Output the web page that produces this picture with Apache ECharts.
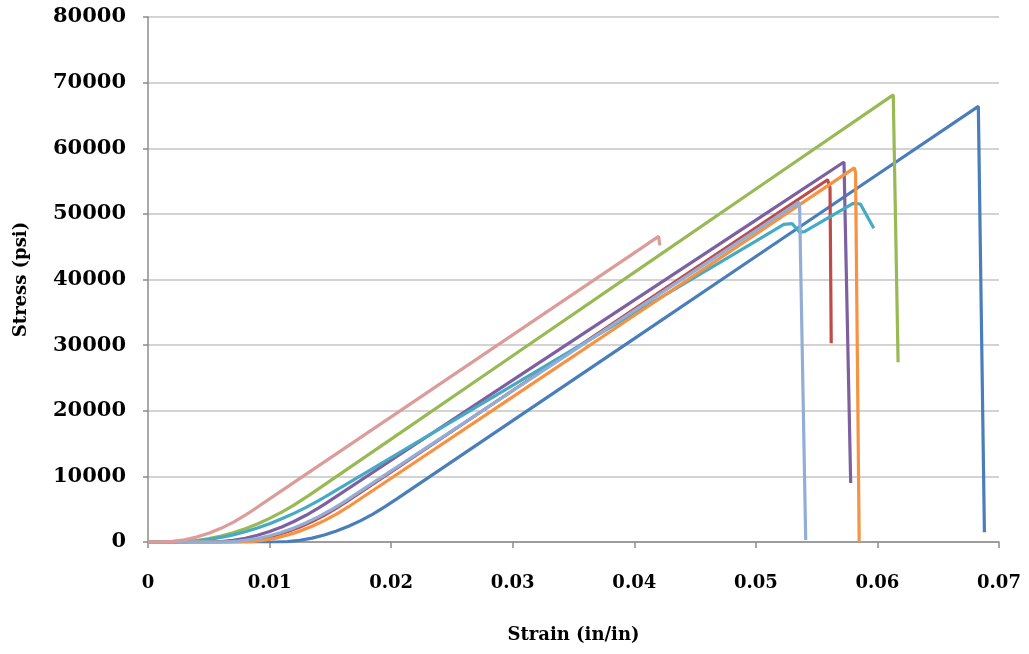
<!DOCTYPE html>
<html>
<head>
<meta charset="utf-8">
<script src="https://cdn.jsdelivr.net/npm/echarts@6/dist/echarts.min.js"></script>
<style>
html,body{margin:0;padding:0;background:#fff;}
#chart{width:1029px;height:654px;}
</style>
</head>
<body>
<div id="chart"></div>
<script>
// Strain (in/in), Stress (psi) pairs
const blueCurve = [[0,0],[0.0105,0],[0.0115,66],[0.0125,266],[0.0135,598],[0.0145,1064],[0.0155,1662],[0.0165,2394],[0.0175,3258],[0.0185,4255],[0.0195,5386],[0.0205,6600],[0.03,18500],[0.04,31000],[0.05,43500],[0.06,56000],[0.0683,66380],[0.0688,1500]];
const redCurve = [[0,0],[0.0065,0],[0.0075,64],[0.0085,254],[0.0095,572],[0.0105,1016],[0.0115,1588],[0.0125,2287],[0.0135,3112],[0.0145,4065],[0.0155,5145],[0.0163,6100],[0.02,10690],[0.03,23090],[0.04,35490],[0.05,47890],[0.0559,55200],[0.0561,54000],[0.0562,30300]];
const greenCurve = [[0,0],[0.002,0],[0.003,56],[0.004,225],[0.005,506],[0.006,899],[0.007,1405],[0.008,2023],[0.009,2753],[0.010,3596],[0.011,4551],[0.012,5619],[0.0133,7175],[0.02,15685],[0.03,28385],[0.04,41085],[0.05,53785],[0.0613,68140],[0.0617,27400]];
const purpleCurve = [[0,0],[0.005,0],[0.006,64],[0.007,255],[0.008,573],[0.009,1019],[0.010,1592],[0.011,2292],[0.012,3120],[0.013,4075],[0.014,5157],[0.0146,5843],[0.02,12456],[0.03,24656],[0.04,36856],[0.05,49056],[0.05725,57900],[0.0578,9000]];
const aquaCurve = [[0,0],[0.002,0],[0.003,44],[0.004,174],[0.005,392],[0.006,697],[0.007,1090],[0.008,1569],[0.009,2135],[0.010,2789],[0.011,3530],[0.012,4358],[0.013,5273],[0.014,6275],[0.0146,6919],[0.02,12859],[0.03,23859],[0.04,34859],[0.05,45859],[0.0523,48390],[0.053,48500],[0.0536,47200],[0.054,47300],[0.058,51600],[0.0586,51500],[0.0592,49500],[0.0597,47800]];
const orangeCurve = [[0,0],[0.0075,0],[0.0085,66],[0.0095,266],[0.0105,597],[0.0115,1062],[0.0125,1659],[0.0135,2389],[0.0145,3252],[0.0155,4248],[0.0165,5376],[0.0168,5750],[0.02,9709],[0.03,22109],[0.04,34509],[0.05,46909],[0.0581,57000],[0.0582,56300],[0.0585,0]];
const lightBlueCurve = [[0,0],[0.006,0],[0.007,60],[0.008,239],[0.009,537],[0.010,955],[0.011,1492],[0.012,2149],[0.013,2925],[0.014,3820],[0.015,4835],[0.016,5969],[0.02,10846],[0.03,23046],[0.04,35246],[0.05,47446],[0.05355,51780],[0.0536,51000],[0.0541,300]];
const pinkCurve = [[0,0],[0.001,0],[0.002,83],[0.003,333],[0.004,750],[0.005,1333],[0.006,2083],[0.007,3000],[0.008,4083],[0.0085,4688],[0.01,6563],[0.02,19063],[0.03,31563],[0.04,44063],[0.042,46560],[0.0421,45200]];

const seriesList = [
  {name:'S1', data: blueCurve, color:'#4A7EBB'},
  {name:'S2', data: redCurve, color:'#BE4B48'},
  {name:'S3', data: greenCurve, color:'#98B954'},
  {name:'S4', data: purpleCurve, color:'#7D60A0'},
  {name:'S5', data: aquaCurve, color:'#46AAC5'},
  {name:'S6', data: orangeCurve, color:'#F69240'},
  {name:'S7', data: lightBlueCurve, color:'#92AED7'},
  {name:'S8', data: pinkCurve, color:'#DB9C9A'}
];

const xTickMin = 0, xTickMax = 0.07, xTickStep = 0.01;
const yTickMin = 0, yTickMax = 80000, yTickStep = 10000;

const chart = echarts.init(document.getElementById('chart'), null, {renderer:'canvas'});
const serifBold = {fontFamily:'DejaVu Serif', fontWeight:'bold', color:'#000'};
chart.setOption({
  animation:false,
  backgroundColor:'#fff',
  grid:{left:148, right:30, top:17, bottom:112, containLabel:false},
  xAxis:{
    type:'value', min:xTickMin, max:xTickMax, interval:xTickStep,
    name:'Strain (in/in)', nameLocation:'middle', nameGap:84,
    nameTextStyle:Object.assign({fontSize:18}, serifBold),
    axisLine:{show:true, lineStyle:{color:'#8C8C8C', width:1.5}},
    axisTick:{show:true, length:6, lineStyle:{color:'#8C8C8C', width:1.5}},
    axisLabel:Object.assign({fontSize:18, margin:32, formatter:v => v === 0 ? '0' : v.toFixed(2)}, serifBold),
    splitLine:{show:false}
  },
  yAxis:{
    type:'value', min:yTickMin, max:yTickMax, interval:yTickStep,
    name:'Stress (psi)', nameLocation:'middle', nameGap:118, nameRotate:90,
    nameTextStyle:Object.assign({fontSize:18}, serifBold),
    axisLine:{show:true, lineStyle:{color:'#8C8C8C', width:1.5}},
    axisTick:{show:true, length:5, lineStyle:{color:'#8C8C8C', width:1.5}},
    axisLabel:Object.assign({fontSize:21, margin:22, formatter:v => String(v)}, serifBold),
    splitLine:{show:true, lineStyle:{color:'#C4C4C4', width:1.5}}
  },
  series: seriesList.map(s => ({
    name:s.name, type:'line', data:s.data, showSymbol:false, symbol:'none',
    lineStyle:{color:s.color, width:3.2}, itemStyle:{color:s.color}, smooth:false
  }))
});
</script>
</body>
</html>
